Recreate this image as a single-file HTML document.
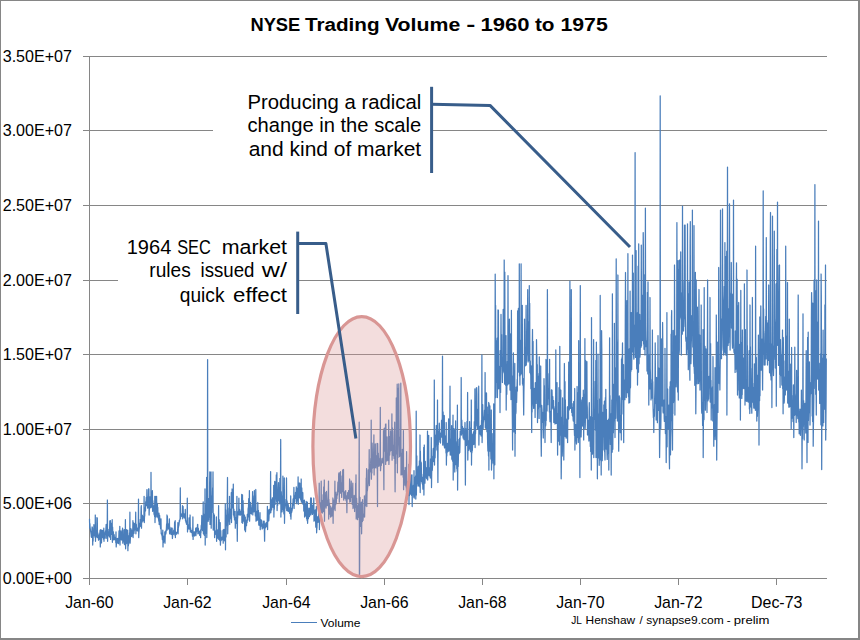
<!DOCTYPE html>
<html>
<head>
<meta charset="utf-8">
<title>NYSE Trading Volume - 1960 to 1975</title>
<style>
html,body{margin:0;padding:0;background:#fff;}
body{width:860px;height:640px;overflow:hidden;font-family:"Liberation Sans",sans-serif;}
svg{display:block;}
text{font-family:"Liberation Sans",sans-serif;fill:#000;}
</style>
</head>
<body>
<svg width="860" height="640" viewBox="0 0 860 640">
<rect x="0" y="0" width="860" height="640" fill="#ffffff"/>
<!-- gridlines -->
<g stroke="#868686" stroke-width="1" fill="none" shape-rendering="crispEdges">
<path d="M83,56.5H827 M83,130.5H827 M83,205.5H827 M83,280.5H827 M83,354.5H827 M83,429.5H827 M83,503.5H827 M83,578.5H827"/>
<path d="M89.5,56V585 M187.5,578V585 M286.5,578V585 M384.5,578V585 M482.5,578V585 M580.5,578V585 M678.5,578V585 M776.5,578V585"/>
</g>
<!-- series -->
<path d="M89.5,518.8 89.7,528.2 89.9,523.5 90.1,527.2 90.3,529.1 90.5,530.8 90.7,531.6 90.9,532.9 91.1,534.5 91.3,536.9 91.5,535.9 91.7,537.4 91.9,530.0 92.1,526.9 92.3,527.5 92.5,528.2 92.7,545.1 92.9,537.1 93.1,541.0 93.3,531.9 93.5,533.4 93.7,534.9 93.9,524.7 94.1,532.5 94.3,535.8 94.5,532.8 94.7,534.2 94.9,529.5 95.1,537.5 95.3,515.0 95.5,541.3 95.7,535.0 95.9,535.5 96.1,534.3 96.3,537.1 96.5,532.0 96.7,530.0 96.9,517.7 97.1,527.9 97.3,517.9 97.5,537.6 97.7,532.6 97.9,536.2 98.1,535.5 98.3,536.4 98.5,540.2 98.7,538.1 98.9,539.5 99.1,536.1 99.3,533.8 99.5,538.9 99.7,534.2 99.9,532.1 100.1,530.1 100.3,546.9 100.5,539.7 100.7,529.7 100.9,529.6 101.1,531.4 101.3,542.4 101.5,543.0 101.7,531.8 101.8,532.5 102.0,530.4 102.2,534.0 102.4,537.4 102.6,535.3 102.8,536.7 103.0,530.3 103.2,533.6 103.4,539.0 103.6,538.9 103.8,528.2 104.0,541.3 104.2,533.7 104.4,533.0 104.6,537.4 104.8,536.9 105.0,532.7 105.2,538.2 105.4,531.3 105.6,530.6 105.8,531.5 106.0,527.5 106.2,524.4 106.4,529.4 106.6,534.9 106.8,538.4 107.0,538.5 107.2,531.3 107.4,500.0 107.6,541.3 107.8,531.7 108.0,535.5 108.2,534.7 108.4,532.5 108.6,531.9 108.8,535.6 109.0,529.3 109.2,531.1 109.4,537.0 109.6,529.4 109.8,521.0 110.0,532.1 110.2,526.1 110.4,520.7 110.6,539.4 110.8,527.9 111.0,523.0 111.2,530.5 111.4,528.2 111.6,534.4 111.8,530.8 112.0,532.3 112.2,519.7 112.4,542.3 112.6,527.1 112.8,532.3 113.0,532.9 113.2,540.0 113.4,531.9 113.6,537.8 113.8,537.4 114.0,534.6 114.2,534.7 114.4,539.6 114.6,539.5 114.8,537.9 115.0,539.7 115.2,537.9 115.4,537.2 115.6,538.0 115.8,542.6 116.0,531.9 116.2,546.9 116.4,544.3 116.6,540.0 116.8,543.5 117.0,540.3 117.2,538.6 117.4,538.4 117.6,542.9 117.8,542.6 118.0,542.5 118.2,538.5 118.4,539.2 118.6,543.6 118.8,537.4 119.0,530.9 119.2,539.2 119.4,539.0 119.6,538.8 119.8,526.3 120.0,545.1 120.2,534.7 120.4,538.0 120.6,538.2 120.8,539.6 121.0,530.8 121.2,536.7 121.4,538.4 121.6,540.0 121.8,536.7 122.0,536.3 122.2,536.4 122.4,529.8 122.6,528.2 122.8,543.2 123.0,539.9 123.2,536.1 123.4,540.1 123.6,535.6 123.8,541.0 124.0,529.8 124.2,540.6 124.4,544.3 124.6,544.7 124.8,529.3 125.0,540.8 125.2,542.0 125.4,519.7 125.6,548.8 125.8,542.6 126.0,542.7 126.2,543.8 126.3,543.5 126.5,529.7 126.7,532.6 126.9,534.0 127.1,535.1 127.3,543.2 127.5,541.4 127.7,530.1 127.9,550.7 128.1,535.3 128.3,546.0 128.5,544.8 128.7,543.2 128.9,541.8 129.1,540.7 129.3,538.7 129.5,532.8 129.7,539.0 129.9,512.2 130.1,543.2 130.3,539.6 130.5,536.5 130.7,536.0 130.9,528.6 131.1,530.9 131.3,536.5 131.5,529.8 131.7,536.4 131.9,534.4 132.1,535.7 132.3,534.5 132.5,533.6 132.7,534.1 132.9,520.7 133.1,537.6 133.3,528.5 133.5,528.2 133.7,522.8 133.9,533.5 134.1,531.4 134.3,523.4 134.5,530.4 134.7,529.8 134.9,526.5 135.1,524.3 135.3,526.9 135.5,526.8 135.7,512.2 135.9,533.8 136.1,526.5 136.3,524.1 136.5,528.9 136.7,528.3 136.9,530.7 137.1,530.2 137.3,528.7 137.5,528.9 137.7,528.2 137.9,527.7 138.1,531.1 138.3,523.8 138.5,499.1 138.7,537.6 138.9,532.8 139.1,530.5 139.3,528.2 139.5,527.2 139.7,523.2 139.9,526.1 140.1,525.5 140.3,519.3 140.5,522.3 140.7,526.3 140.9,518.7 141.1,507.5 141.3,505.7 141.5,528.2 141.7,514.7 141.9,521.7 142.1,522.2 142.3,520.4 142.5,515.5 142.7,518.5 142.9,518.5 143.1,520.9 143.3,516.6 143.5,519.6 143.7,516.9 143.9,518.8 144.1,496.3 144.3,522.6 144.5,516.4 144.7,516.3 144.9,510.1 145.1,507.6 145.3,510.0 145.5,510.9 145.7,501.7 145.9,506.0 146.1,501.9 146.3,497.4 146.5,503.6 146.7,502.0 146.9,489.7 147.1,505.7 147.3,501.9 147.5,504.5 147.7,508.2 147.9,506.1 148.1,496.9 148.3,499.9 148.5,488.9 148.7,506.9 148.9,488.8 149.1,515.0 149.3,509.6 149.5,508.0 149.7,499.1 149.9,496.9 150.1,507.9 150.3,501.9 150.5,500.0 150.7,496.6 150.9,503.7 151.0,472.3 151.2,507.5 151.4,504.4 151.6,505.9 151.8,493.6 152.0,505.2 152.2,506.0 152.4,490.7 152.6,511.3 152.8,500.6 153.0,505.4 153.2,510.8 153.4,508.4 153.6,507.0 153.8,505.8 154.0,514.3 154.2,511.7 154.4,514.7 154.6,516.4 154.8,496.3 155.0,522.6 155.2,511.4 155.4,517.3 155.6,512.3 155.8,496.3 156.0,512.5 156.2,510.3 156.4,510.3 156.6,496.3 156.8,516.9 157.0,511.0 157.2,513.4 157.4,503.5 157.6,513.0 157.8,507.4 158.0,517.5 158.2,514.8 158.4,518.5 158.6,519.2 158.8,521.2 159.0,513.2 159.2,524.4 159.4,523.0 159.6,515.2 159.8,518.2 160.0,522.9 160.2,525.3 160.4,526.5 160.6,528.7 160.8,527.7 161.0,518.8 161.2,533.8 161.4,533.0 161.6,533.1 161.8,535.3 162.0,534.2 162.2,537.0 162.4,539.6 162.6,535.2 162.8,530.1 163.0,546.9 163.2,535.7 163.4,542.8 163.6,538.1 163.8,542.0 164.0,540.4 164.2,536.3 164.4,539.8 164.6,539.2 164.8,531.9 165.0,543.2 165.2,535.7 165.4,531.2 165.6,532.7 165.8,534.2 166.0,533.0 166.2,530.9 166.4,528.2 166.6,524.0 166.8,528.0 167.0,515.0 167.2,530.1 167.4,516.2 167.6,528.0 167.8,528.2 168.0,524.9 168.2,526.5 168.4,524.0 168.6,527.5 168.8,529.2 169.0,527.6 169.2,524.1 169.4,518.8 169.6,533.8 169.8,529.8 170.0,527.1 170.2,529.1 170.4,530.6 170.6,531.2 170.8,532.1 171.0,534.4 171.2,532.4 171.4,529.3 171.6,528.0 171.8,530.7 172.0,534.8 172.2,528.2 172.4,538.5 172.6,536.2 172.8,533.3 173.0,534.5 173.2,532.6 173.4,534.3 173.6,530.8 173.8,530.4 174.0,532.3 174.2,528.8 174.4,533.2 174.6,522.0 174.8,535.1 175.0,532.4 175.2,520.7 175.4,537.6 175.5,533.1 175.7,534.5 175.9,534.0 176.1,532.4 176.3,533.9 176.5,534.2 176.7,532.5 176.9,532.5 177.1,532.8 177.3,531.8 177.5,532.7 177.7,529.4 177.9,522.6 178.1,533.8 178.3,527.8 178.5,527.2 178.7,525.8 178.9,525.4 179.1,523.6 179.3,520.5 179.5,521.8 179.7,520.5 179.9,519.3 180.1,518.4 180.3,487.8 180.5,518.8 180.7,515.3 180.9,514.9 181.1,516.1 181.3,515.4 181.5,514.0 181.7,515.8 181.9,515.4 182.1,516.4 182.3,515.9 182.5,505.7 182.7,518.8 182.9,513.8 183.1,506.4 183.3,513.7 183.5,513.3 183.7,516.8 183.9,513.5 184.1,516.6 184.3,517.6 184.5,518.0 184.7,516.9 184.9,517.6 185.1,517.0 185.3,509.4 185.5,520.7 185.7,520.0 185.9,522.2 186.1,521.6 186.3,522.8 186.5,524.2 186.7,523.4 186.9,524.4 187.1,524.3 187.3,498.2 187.5,531.9 187.7,528.4 187.9,528.9 188.1,528.6 188.3,527.5 188.5,527.9 188.7,524.6 188.9,528.9 189.1,517.9 189.3,528.9 189.5,523.6 189.7,529.2 189.9,528.4 190.1,515.0 190.3,531.9 190.5,527.7 190.7,528.8 190.9,530.0 191.1,531.4 191.3,532.3 191.5,532.5 191.7,532.6 191.9,532.0 192.1,530.3 192.3,534.0 192.5,536.1 192.7,533.9 192.9,516.9 193.1,539.4 193.3,531.5 193.5,535.0 193.7,534.5 193.9,532.1 194.1,535.7 194.3,533.4 194.5,536.0 194.7,534.4 194.9,531.7 195.1,533.2 195.3,533.9 195.5,532.9 195.7,528.2 195.9,535.7 196.1,533.1 196.3,532.2 196.5,531.2 196.7,531.3 196.9,527.4 197.1,529.0 197.3,530.7 197.5,524.6 197.7,524.4 197.9,533.8 198.1,532.6 198.3,528.0 198.5,531.4 198.7,531.4 198.9,532.8 199.1,531.3 199.3,533.8 199.5,532.4 199.7,535.4 199.9,533.9 200.0,532.5 200.2,532.7 200.4,530.1 200.6,537.6 200.8,532.9 201.0,532.6 201.2,525.9 201.4,525.0 201.6,524.7 201.8,515.5 202.0,518.9 202.2,529.8 202.4,528.3 202.6,530.6 202.8,516.7 203.0,525.7 203.2,501.9 203.4,533.8 203.6,528.8 203.8,526.6 204.0,514.4 204.2,534.6 204.4,535.3 204.6,531.2 204.8,532.3 205.0,488.8 205.2,545.1 205.4,523.7 205.6,504.5 205.8,533.3 206.0,533.1 206.2,530.0 206.4,524.8 206.6,477.5 206.8,537.6 207.0,525.1 207.2,512.8 207.4,507.0 207.6,359.5 207.8,510.6 208.0,512.9 208.2,521.3 208.4,511.0 208.6,519.8 208.8,498.6 209.0,517.2 209.2,516.0 209.4,513.8 209.6,486.5 209.8,471.9 210.0,524.4 210.2,510.3 210.4,481.1 210.6,512.1 210.8,511.3 211.0,471.9 211.2,528.2 211.4,514.2 211.6,501.2 211.8,512.4 212.0,495.8 212.2,500.2 212.4,497.9 212.6,487.9 212.8,496.0 213.0,471.9 213.2,530.1 213.4,527.3 213.6,513.3 213.8,514.4 214.0,528.4 214.2,520.2 214.4,515.0 214.6,537.6 214.8,533.0 215.0,532.9 215.2,532.7 215.4,533.7 215.6,531.0 215.8,533.3 216.0,534.4 216.2,534.8 216.4,516.9 216.6,541.3 216.8,533.1 217.0,532.8 217.2,538.2 217.4,534.4 217.6,530.0 217.8,533.5 218.0,531.0 218.2,538.2 218.4,531.5 218.6,505.7 218.8,539.4 219.0,535.8 219.2,519.6 219.4,535.9 219.6,534.4 219.8,540.7 220.0,540.1 220.2,522.6 220.4,545.1 220.6,540.6 220.8,530.7 221.0,540.6 221.2,537.5 221.4,538.2 221.6,539.9 221.8,537.5 222.0,537.8 222.2,539.7 222.4,536.8 222.6,538.9 222.8,537.5 223.0,530.1 223.2,543.2 223.4,537.0 223.6,539.9 223.8,529.4 224.0,531.0 224.2,532.8 224.4,535.5 224.6,540.8 224.7,536.1 224.9,529.2 225.1,540.4 225.3,503.8 225.5,549.8 225.7,509.8 225.9,523.8 226.1,537.0 226.3,518.7 226.5,517.0 226.7,515.1 226.9,525.5 227.1,525.5 227.3,498.7 227.5,477.5 227.7,533.8 227.9,523.9 228.1,525.1 228.3,521.5 228.5,521.0 228.7,519.7 228.9,513.9 229.1,508.0 229.3,519.2 229.5,496.3 229.7,524.4 229.9,512.8 230.1,509.0 230.3,509.4 230.5,517.4 230.7,514.4 230.9,513.2 231.1,519.0 231.3,492.5 231.5,522.6 231.7,506.9 231.9,506.9 232.1,489.0 232.3,502.0 232.5,499.9 232.7,507.9 232.9,499.4 233.1,507.1 233.3,484.1 233.5,515.0 233.7,513.2 233.9,509.1 234.1,517.3 234.3,513.4 234.5,519.7 234.7,517.1 234.9,520.2 235.1,511.3 235.3,528.2 235.5,521.0 235.7,517.3 235.9,519.5 236.1,518.9 236.3,520.9 236.5,523.3 236.7,516.6 236.9,496.3 237.1,523.6 237.3,541.3 237.5,519.5 237.7,517.1 237.9,511.8 238.1,512.5 238.3,514.2 238.5,514.2 238.7,511.6 238.9,498.2 239.1,515.0 239.3,509.0 239.5,511.5 239.7,509.7 239.9,510.6 240.1,513.1 240.3,515.1 240.5,513.6 240.7,514.1 240.9,514.5 241.1,511.3 241.3,512.1 241.5,511.8 241.7,494.4 241.9,522.6 242.1,506.5 242.3,510.3 242.5,494.8 242.7,523.3 242.9,509.5 243.1,500.5 243.3,513.3 243.5,511.2 243.7,520.4 243.9,518.5 244.1,521.5 244.3,519.1 244.5,515.0 244.7,530.1 244.9,527.5 245.1,527.8 245.3,517.0 245.5,531.7 245.7,527.4 245.9,524.7 246.1,521.0 246.3,525.3 246.5,525.7 246.7,519.9 246.9,519.7 247.1,522.6 247.3,514.4 247.5,516.1 247.7,518.9 247.9,520.0 248.1,508.9 248.3,507.9 248.5,506.8 248.7,498.6 248.9,516.8 249.1,516.1 249.2,507.4 249.4,490.6 249.6,521.2 249.8,512.8 250.0,505.5 250.2,507.6 250.4,502.4 250.6,513.4 250.8,512.0 251.0,511.8 251.2,508.4 251.4,514.0 251.6,510.4 251.8,509.8 252.0,505.1 252.2,506.0 252.4,501.7 252.6,491.6 252.8,514.9 253.0,506.3 253.2,502.0 253.4,498.2 253.6,508.2 253.8,511.8 254.0,495.8 254.2,501.7 254.4,490.5 254.6,510.0 254.8,511.3 255.0,512.0 255.2,511.3 255.4,515.9 255.6,507.4 255.8,489.5 256.0,521.2 256.2,515.9 256.4,517.2 256.6,511.3 256.8,517.5 257.0,518.6 257.2,520.4 257.4,519.5 257.6,518.6 257.8,502.5 258.0,514.3 258.2,519.7 258.4,510.3 258.6,516.0 258.8,524.8 259.0,525.3 259.2,525.2 259.4,524.8 259.6,523.0 259.8,524.9 260.0,512.7 260.2,529.6 260.4,525.5 260.6,523.8 260.8,526.0 261.0,519.6 261.2,526.0 261.4,526.1 261.6,520.3 261.8,524.2 262.0,526.5 262.2,529.0 262.4,527.1 262.6,527.2 262.8,527.7 263.0,524.0 263.2,527.8 263.4,521.2 263.6,526.7 263.8,527.7 264.0,528.1 264.2,521.2 264.4,531.6 264.6,541.2 264.8,528.9 265.0,528.7 265.2,523.8 265.4,524.0 265.6,527.6 265.8,527.0 266.0,525.6 266.2,522.6 266.4,525.9 266.6,524.4 266.8,526.5 267.0,525.4 267.2,523.3 267.4,506.4 267.6,529.6 267.8,509.7 268.0,514.8 268.2,510.3 268.4,518.2 268.6,521.0 268.8,520.6 269.0,518.0 269.2,509.4 269.4,513.5 269.6,513.9 269.8,509.7 270.0,511.9 270.2,510.4 270.4,506.3 270.6,471.6 270.8,512.7 271.0,509.7 271.2,499.6 271.4,508.6 271.6,510.0 271.8,507.4 272.0,506.2 272.2,503.5 272.4,497.8 272.6,498.0 272.8,505.6 273.0,507.3 273.2,500.6 273.4,504.5 273.6,502.2 273.7,485.3 273.9,517.0 274.1,504.5 274.3,509.2 274.5,500.0 274.7,481.4 274.9,493.1 275.1,504.5 275.3,495.1 275.5,498.0 275.7,494.7 275.9,481.7 276.1,489.2 276.3,475.0 276.5,500.0 276.7,501.9 276.9,472.7 277.1,510.6 277.3,503.8 277.5,498.9 277.7,505.1 277.9,500.4 278.1,495.0 278.3,487.3 278.5,482.6 278.7,500.1 278.9,494.7 279.1,496.7 279.3,500.9 279.5,495.0 279.7,503.8 279.9,478.3 280.1,486.5 280.3,496.0 280.5,479.6 280.7,439.5 280.9,517.0 281.1,501.8 281.3,491.7 281.5,500.1 281.7,507.6 281.9,511.9 282.1,511.4 282.3,495.8 282.5,498.0 282.7,509.1 282.9,476.1 283.1,505.7 283.3,509.6 283.5,509.8 283.7,510.8 283.9,513.9 284.1,510.8 284.3,477.9 284.5,523.3 284.7,510.7 284.9,506.4 285.1,508.1 285.3,505.1 285.5,503.5 285.7,504.3 285.9,499.5 286.1,505.6 286.3,500.9 286.5,477.9 286.7,510.6 286.9,504.3 287.1,500.8 287.3,505.4 287.5,504.6 287.7,503.2 287.9,511.2 288.1,504.1 288.3,506.0 288.5,505.9 288.7,511.5 288.9,511.4 289.1,511.2 289.3,510.0 289.5,512.1 289.7,513.3 289.9,507.6 290.1,510.8 290.3,509.6 290.5,516.3 290.7,495.9 290.9,519.1 291.1,514.7 291.3,508.2 291.5,512.9 291.7,512.2 291.9,511.2 292.1,510.5 292.3,508.9 292.5,507.6 292.7,503.2 292.9,505.3 293.1,499.0 293.3,500.7 293.5,501.2 293.7,502.5 293.9,487.4 294.1,508.5 294.3,495.7 294.5,499.0 294.7,502.1 294.9,497.8 295.1,497.0 295.3,497.0 295.5,492.5 295.7,496.8 295.9,498.4 296.1,497.5 296.3,486.8 296.5,501.4 296.7,503.6 296.9,499.7 297.1,501.0 297.3,488.3 297.5,496.4 297.7,500.4 297.9,496.7 298.1,476.9 298.3,504.3 298.4,485.4 298.6,482.8 298.8,484.8 299.0,493.0 299.2,484.5 299.4,489.9 299.6,497.8 299.8,483.0 300.0,496.7 300.2,497.3 300.4,499.0 300.6,498.0 300.8,500.0 301.0,497.8 301.2,479.0 301.4,502.2 301.6,497.3 301.8,487.9 302.0,497.8 302.2,497.5 302.4,494.5 302.6,503.6 302.8,492.5 303.0,501.5 303.2,504.4 303.4,503.8 303.6,500.9 303.8,511.1 304.0,507.3 304.2,510.2 304.4,500.1 304.6,517.0 304.8,516.1 305.0,507.6 305.2,504.6 305.4,513.4 305.6,514.4 305.8,515.9 306.0,514.3 306.2,501.3 306.4,513.7 306.6,518.6 306.8,513.9 307.0,518.5 307.2,520.8 307.4,502.2 307.6,523.3 307.8,516.6 308.0,513.0 308.2,511.1 308.4,518.7 308.6,514.8 308.8,508.6 309.0,508.1 309.2,515.7 309.4,516.7 309.6,515.2 309.8,510.8 310.0,511.9 310.2,508.4 310.4,509.9 310.6,498.0 310.8,514.9 311.0,510.8 311.2,505.5 311.4,498.0 311.6,509.2 311.8,507.1 312.0,509.0 312.2,513.4 312.4,514.4 312.6,505.1 312.8,513.2 313.0,513.2 313.2,509.0 313.4,508.7 313.6,506.8 313.8,498.0 314.0,521.2 314.2,514.2 314.4,512.6 314.6,517.4 314.8,520.4 315.0,510.5 315.2,509.8 315.4,513.8 315.6,520.1 315.8,527.2 316.0,524.6 316.2,510.6 316.4,506.4 316.6,532.8 316.8,528.9 317.0,527.4 317.2,517.5 317.4,518.6 317.6,522.4 317.8,516.7 318.0,517.3 318.2,518.0 318.4,522.1 318.6,517.3 318.8,510.7 319.0,514.2 319.2,483.2 319.4,529.6 319.6,516.9 319.8,513.8 320.0,503.3 320.2,509.7 320.4,512.7 320.6,505.6 320.8,502.4 321.0,507.4 321.2,481.1 321.4,512.7 321.6,500.0 321.8,509.6 322.0,511.7 322.2,512.3 322.4,513.0 322.6,504.7 322.8,500.3 322.9,510.6 323.1,494.7 323.3,511.6 323.5,511.5 323.7,486.9 323.9,510.5 324.1,494.7 324.3,480.0 324.5,521.2 324.7,498.9 324.9,503.4 325.1,492.3 325.3,505.8 325.5,504.8 325.7,500.7 325.9,506.7 326.1,508.1 326.3,498.9 326.5,491.4 326.7,498.1 326.9,502.7 327.1,505.6 327.3,505.7 327.5,505.2 327.7,505.1 327.9,500.8 328.1,501.3 328.3,494.1 328.5,481.1 328.7,519.1 328.9,499.4 329.1,507.3 329.3,508.6 329.5,503.2 329.7,510.2 329.9,514.1 330.1,509.6 330.3,506.2 330.5,517.1 330.7,508.4 330.9,516.8 331.1,508.9 331.3,516.2 331.5,512.2 331.7,513.7 331.9,507.2 332.1,513.7 332.3,515.8 332.5,514.3 332.7,509.8 332.9,498.0 333.1,523.3 333.3,508.5 333.5,499.8 333.7,503.9 333.9,506.5 334.1,509.0 334.3,503.9 334.5,501.8 334.7,507.3 334.9,481.1 335.1,510.6 335.3,496.8 335.5,492.2 335.7,504.7 335.9,500.4 336.1,494.1 336.3,503.1 336.5,495.9 336.7,497.2 336.9,498.4 337.1,491.8 337.3,492.7 337.5,495.0 337.7,488.6 337.9,482.2 338.1,491.8 338.3,486.4 338.5,484.4 338.7,473.6 338.9,480.8 339.1,472.7 339.3,502.2 339.5,481.8 339.7,473.6 339.9,487.2 340.1,487.0 340.3,493.1 340.5,471.7 340.7,489.6 340.9,492.7 341.1,493.1 341.3,483.3 341.5,489.2 341.7,497.4 341.9,491.9 342.1,475.9 342.3,488.3 342.5,491.3 342.7,470.0 342.9,489.0 343.1,491.8 343.3,488.1 343.5,469.5 343.7,500.1 343.9,496.3 344.1,493.5 344.3,495.2 344.5,491.8 344.7,495.9 344.9,495.7 345.1,498.5 345.3,498.5 345.5,495.7 345.7,490.6 345.9,498.6 346.1,500.8 346.3,497.1 346.5,495.9 346.7,503.1 346.9,512.7 347.1,498.8 347.3,499.2 347.4,498.8 347.6,492.7 347.8,498.0 348.0,498.6 348.2,497.6 348.4,497.7 348.6,490.7 348.8,496.8 349.0,496.5 349.2,499.1 349.4,494.3 349.6,479.0 349.8,502.2 350.0,499.2 350.2,497.8 350.4,501.4 350.6,489.2 350.8,496.4 351.0,484.9 351.2,481.0 351.4,488.2 351.6,497.5 351.8,497.5 352.0,495.4 352.2,504.3 352.4,493.1 352.6,489.4 352.8,483.2 353.0,508.5 353.2,501.4 353.4,506.1 353.6,506.5 353.8,506.8 354.0,507.1 354.2,495.4 354.4,501.5 354.6,511.5 354.8,502.0 355.0,501.7 355.2,504.8 355.4,507.7 355.6,483.5 355.8,498.3 356.0,474.8 356.2,519.1 356.4,510.8 356.6,498.2 356.8,502.6 357.0,506.5 357.2,507.6 357.4,515.2 357.6,519.6 357.8,505.8 358.0,515.9 358.2,517.3 358.4,508.0 358.6,503.9 358.8,514.6 359.0,504.7 359.2,422.2 359.4,574.5 359.6,573.9 359.8,520.6 360.0,497.4 360.2,515.8 360.4,519.2 360.6,523.1 360.8,526.4 361.0,518.9 361.2,504.3 361.4,502.2 361.6,533.8 361.8,517.8 362.0,512.5 362.2,511.8 362.4,521.6 362.6,499.6 362.8,518.8 363.0,520.4 363.2,517.5 363.4,514.4 363.6,514.7 363.8,516.7 364.0,516.3 364.2,513.3 364.4,495.9 364.6,517.0 364.8,505.9 365.0,503.6 365.2,501.6 365.4,506.0 365.6,504.0 365.8,494.6 366.0,499.4 366.2,478.1 366.4,482.3 366.6,468.6 366.8,506.6 367.0,494.0 367.2,488.9 367.4,490.7 367.6,487.5 367.8,486.7 368.0,484.4 368.2,469.9 368.4,483.1 368.6,481.6 368.8,470.6 369.0,473.5 369.2,449.6 369.4,485.5 369.6,475.4 369.8,468.3 370.0,472.2 370.2,469.9 370.4,464.8 370.6,463.4 370.8,458.5 371.0,471.4 371.2,420.1 371.4,479.2 371.6,463.0 371.8,468.9 371.9,473.0 372.1,443.1 372.3,449.0 372.5,465.7 372.7,468.2 372.9,467.5 373.1,458.1 373.3,461.1 373.5,462.5 373.7,448.5 373.9,434.9 374.1,474.9 374.3,463.6 374.5,463.1 374.7,461.7 374.9,459.2 375.1,467.9 375.3,443.8 375.5,467.5 375.7,457.6 375.9,456.3 376.1,455.8 376.3,458.6 376.5,463.9 376.7,462.0 376.9,468.3 377.1,443.3 377.3,474.8 377.5,506.6 377.7,443.7 377.9,464.2 378.1,460.5 378.3,453.1 378.5,463.0 378.7,465.7 378.9,466.4 379.1,464.2 379.3,465.4 379.5,463.8 379.7,458.2 379.9,460.6 380.1,453.5 380.3,407.4 380.5,470.7 380.7,468.4 380.9,462.3 381.1,458.6 381.3,465.4 381.5,461.0 381.7,462.5 381.9,462.7 382.1,462.4 382.3,461.9 382.5,460.6 382.7,458.2 382.9,458.9 383.1,463.1 383.3,456.5 383.5,430.6 383.7,469.6 383.9,489.7 384.1,428.8 384.3,428.1 384.5,451.1 384.7,449.4 384.9,443.9 385.1,446.8 385.3,449.8 385.5,424.3 385.7,464.4 385.9,423.9 386.1,452.9 386.3,449.8 386.5,455.0 386.7,452.4 386.9,461.0 387.1,436.8 387.3,457.4 387.5,453.3 387.7,460.1 387.9,455.1 388.1,457.1 388.3,460.4 388.5,458.9 388.7,420.1 388.9,464.4 389.1,459.3 389.3,447.5 389.5,450.1 389.7,455.1 389.9,436.3 390.1,451.8 390.3,447.3 390.5,430.9 390.7,446.1 390.9,448.5 391.1,440.7 391.3,450.4 391.5,447.5 391.7,446.0 391.9,413.8 392.1,460.2 392.3,441.5 392.5,427.8 392.7,438.7 392.9,454.9 393.1,445.1 393.3,449.2 393.5,455.7 393.7,446.6 393.9,448.3 394.1,458.4 394.3,430.8 394.5,451.7 394.7,422.2 394.9,468.5 395.1,491.8 395.3,457.2 395.5,458.2 395.7,463.6 395.9,452.6 396.1,450.4 396.3,398.0 396.5,439.5 396.6,447.7 396.8,453.8 397.0,432.5 397.2,384.2 397.4,472.8 397.6,436.9 397.8,452.5 398.0,457.4 398.2,431.0 398.4,388.2 398.6,432.1 398.8,383.8 399.0,421.0 399.2,440.3 399.4,446.1 399.6,456.7 399.8,437.5 400.0,454.3 400.2,455.2 400.4,448.7 400.6,449.0 400.8,383.2 401.0,474.9 401.2,456.8 401.4,453.2 401.6,457.3 401.8,459.3 402.0,474.7 402.2,468.5 402.4,449.3 402.6,465.9 402.8,464.4 403.0,462.3 403.2,477.3 403.4,430.6 403.6,489.7 403.8,472.8 404.0,473.5 404.2,478.6 404.4,478.7 404.6,470.3 404.8,475.2 405.0,485.2 405.2,467.3 405.4,470.9 405.6,481.0 405.8,479.5 406.0,486.9 406.2,481.8 406.4,491.4 406.6,451.7 406.8,498.1 407.0,490.9 407.2,483.3 407.4,494.1 407.6,491.1 407.8,492.2 408.0,481.7 408.2,482.5 408.4,495.6 408.6,493.8 408.8,464.4 409.0,504.5 409.2,466.2 409.4,495.8 409.6,477.6 409.8,468.8 410.0,482.5 410.2,492.7 410.4,478.7 410.6,494.2 410.8,487.9 411.0,491.6 411.2,475.0 411.4,495.0 411.6,495.4 411.8,488.8 412.0,474.9 412.2,506.6 412.4,488.1 412.6,489.6 412.8,494.4 413.0,494.7 413.2,490.0 413.4,485.1 413.6,492.4 413.8,497.3 414.0,470.7 414.2,498.1 414.4,496.0 414.6,494.1 414.8,490.3 415.0,487.5 415.2,477.2 415.4,488.4 415.6,475.9 415.8,499.1 416.0,483.9 416.2,411.2 416.4,495.0 416.6,467.4 416.8,455.8 417.0,481.8 417.2,476.8 417.4,483.5 417.6,478.0 417.8,482.5 418.0,486.0 418.2,466.6 418.4,471.6 418.6,481.2 418.8,465.8 419.0,486.0 419.2,477.9 419.4,460.9 419.6,483.4 419.8,486.9 420.0,435.0 420.2,492.5 420.4,451.0 420.6,467.8 420.8,461.5 421.0,477.3 421.1,480.0 421.3,462.6 421.5,481.5 421.7,474.2 421.9,478.4 422.1,483.3 422.3,477.2 422.5,484.4 422.7,484.3 422.9,489.2 423.1,485.9 423.3,485.8 423.5,477.1 423.7,447.5 423.9,495.0 424.1,481.6 424.3,445.0 424.5,467.2 424.7,465.1 424.9,483.1 425.1,478.6 425.3,461.4 425.5,477.1 425.7,474.3 425.9,475.4 426.1,474.3 426.3,468.6 426.5,478.2 426.7,467.5 426.9,478.8 427.1,474.4 427.3,463.2 427.5,431.2 427.7,480.0 427.9,470.2 428.1,447.2 428.3,470.3 428.5,461.2 428.7,435.3 428.9,470.1 429.1,475.8 429.3,467.6 429.5,472.1 429.7,469.1 429.9,472.1 430.1,474.6 430.3,478.0 430.5,458.8 430.7,469.6 430.9,475.8 431.1,456.6 431.3,437.5 431.5,487.5 431.7,472.9 431.9,468.2 432.1,470.1 432.3,470.3 432.5,466.8 432.7,456.2 432.9,462.1 433.1,450.4 433.3,448.3 433.5,461.4 433.7,459.4 433.9,460.2 434.1,457.3 434.3,380.0 434.5,465.0 434.7,449.9 434.9,445.5 435.1,457.8 435.3,447.6 435.5,446.3 435.7,435.0 435.9,441.4 436.1,433.4 436.3,425.5 436.5,444.1 436.7,435.3 436.9,449.8 437.1,449.0 437.3,450.6 437.5,400.0 437.7,457.0 437.9,482.5 438.1,441.2 438.3,444.7 438.5,431.2 438.7,438.8 438.9,436.9 439.1,439.3 439.3,423.2 439.5,428.4 439.7,437.1 439.9,442.0 440.1,432.8 440.3,437.9 440.5,443.1 440.7,437.3 440.9,436.6 441.1,437.4 441.3,437.3 441.5,420.4 441.7,436.8 441.9,431.2 442.1,422.7 442.3,417.6 442.5,356.2 442.7,445.0 442.9,436.2 443.1,411.8 443.3,421.2 443.5,432.0 443.7,433.7 443.9,439.7 444.1,446.1 444.3,415.5 444.5,447.9 444.7,435.8 444.9,437.6 445.1,440.9 445.3,436.2 445.5,447.6 445.6,437.3 445.8,447.5 446.0,452.9 446.2,422.5 446.4,465.0 446.6,446.0 446.8,456.1 447.0,450.0 447.2,447.3 447.4,443.4 447.6,452.0 447.8,451.3 448.0,446.1 448.2,451.3 448.4,440.2 448.6,418.8 448.8,440.2 449.0,447.2 449.2,450.8 449.4,443.9 449.6,444.0 449.8,426.1 450.0,386.2 450.2,455.0 450.4,442.0 450.6,443.1 450.8,445.4 451.0,438.9 451.2,455.1 451.4,452.4 451.6,425.6 451.8,459.2 452.0,443.9 452.2,446.6 452.4,459.8 452.6,461.2 452.8,440.6 453.0,415.0 453.2,480.0 453.4,459.6 453.6,464.6 453.8,436.9 454.0,428.7 454.2,462.9 454.4,430.4 454.6,466.0 454.8,472.0 455.0,451.5 455.2,460.7 455.4,453.9 455.6,420.9 455.8,464.7 456.0,441.5 456.2,455.5 456.4,450.6 456.6,456.3 456.8,468.7 457.0,460.9 457.2,471.2 457.4,405.0 457.6,490.0 457.8,465.7 458.0,457.5 458.2,466.5 458.4,458.0 458.6,446.6 458.8,449.2 459.0,439.4 459.2,453.6 459.4,442.5 459.6,438.1 459.8,452.4 460.0,443.5 460.2,431.2 460.4,432.5 460.6,434.6 460.8,433.4 461.0,431.4 461.2,377.5 461.4,435.0 461.6,433.5 461.8,420.1 462.0,428.9 462.2,428.4 462.4,426.4 462.6,427.8 462.8,432.9 463.0,436.7 463.2,438.2 463.4,428.3 463.6,432.5 463.8,432.1 464.0,439.7 464.2,439.2 464.4,434.2 464.6,438.7 464.8,429.0 465.0,422.5 465.2,449.5 465.4,485.0 465.6,438.7 465.8,428.8 466.0,441.3 466.2,442.7 466.4,445.5 466.6,435.7 466.8,440.8 467.0,421.3 467.2,443.7 467.4,444.3 467.6,392.5 467.8,460.0 468.0,444.9 468.2,441.6 468.4,450.5 468.6,449.2 468.8,447.1 469.0,440.4 469.2,449.0 469.4,433.3 469.6,421.6 469.8,445.0 470.0,443.3 470.2,450.6 470.3,428.4 470.5,451.4 470.7,451.8 470.9,448.5 471.1,451.5 471.3,400.0 471.5,465.0 471.7,444.5 471.9,452.7 472.1,449.1 472.3,450.8 472.5,446.9 472.7,434.1 472.9,443.5 473.1,438.0 473.3,444.6 473.5,432.0 473.7,440.9 473.9,444.3 474.1,439.8 474.3,421.7 474.5,434.8 474.7,438.0 474.9,388.8 475.1,447.5 475.3,429.1 475.5,433.7 475.7,428.3 475.9,420.9 476.1,418.9 476.3,387.9 476.5,406.1 476.7,387.6 476.9,393.7 477.1,425.9 477.3,409.0 477.5,427.8 477.7,429.0 477.9,423.5 478.1,429.3 478.3,415.3 478.5,419.3 478.7,386.2 478.9,445.0 479.1,428.5 479.3,432.5 479.5,429.0 479.7,431.3 479.9,431.8 480.1,426.1 480.3,434.3 480.5,430.8 480.7,425.5 480.9,434.8 481.1,436.0 481.3,433.1 481.5,420.4 481.7,432.5 481.9,355.0 482.1,442.5 482.3,433.1 482.5,421.4 482.7,404.7 482.9,419.3 483.1,428.9 483.3,422.6 483.5,422.1 483.7,418.2 483.9,416.9 484.1,419.7 484.3,414.2 484.5,410.2 484.7,414.9 484.9,419.2 485.1,372.5 485.3,427.5 485.5,419.7 485.7,420.6 485.9,428.7 486.1,401.5 486.3,392.8 486.5,393.2 486.7,419.7 486.9,431.7 487.1,428.4 487.3,407.0 487.5,436.6 487.7,444.9 487.9,451.0 488.1,449.6 488.3,445.7 488.5,455.9 488.7,402.5 488.9,470.0 489.1,403.5 489.3,434.0 489.5,417.8 489.7,451.0 489.9,405.9 490.1,434.6 490.3,447.2 490.5,427.3 490.7,448.9 490.9,459.0 491.1,444.3 491.3,410.0 491.5,470.0 491.7,458.7 491.9,463.9 492.1,433.6 492.3,456.4 492.5,453.0 492.7,460.0 492.9,459.2 493.1,452.5 493.3,463.1 493.5,436.6 493.7,403.8 493.9,478.8 494.1,426.8 494.3,458.6 494.5,451.7 494.7,451.9 494.8,464.8 495.0,379.2 495.2,274.1 495.4,324.5 495.6,305.4 495.8,397.5 496.0,381.2 496.2,383.0 496.4,381.6 496.6,340.6 496.8,365.1 497.0,350.7 497.2,338.2 497.4,397.5 497.6,383.6 497.8,370.1 498.0,309.9 498.2,383.0 498.4,310.2 498.6,383.0 498.8,388.8 499.0,376.9 499.2,384.7 499.4,382.9 499.6,375.7 499.8,366.2 500.0,412.5 500.2,350.6 500.4,376.0 500.6,392.5 500.8,360.7 501.0,314.4 501.2,350.4 501.4,338.9 501.6,334.6 501.8,366.3 502.0,357.0 502.2,369.1 502.4,382.5 502.6,357.8 502.8,362.5 503.0,371.1 503.2,309.4 503.4,353.3 503.6,359.3 503.8,360.8 504.0,372.8 504.2,260.0 504.4,364.6 504.6,384.1 504.8,272.1 505.0,360.2 505.2,351.0 505.4,358.0 505.6,385.2 505.8,375.0 506.0,335.6 506.2,410.0 506.4,378.0 506.6,391.7 506.8,394.4 507.0,373.0 507.2,372.8 507.4,361.4 507.6,384.9 507.8,376.6 508.0,275.7 508.2,373.1 508.4,370.3 508.6,375.3 508.8,383.9 509.0,383.3 509.2,358.4 509.4,319.2 509.6,371.8 509.8,349.0 510.0,390.0 510.2,333.9 510.4,336.5 510.6,337.3 510.8,379.7 511.0,399.6 511.2,378.6 511.4,310.3 511.6,374.2 511.8,397.9 512.0,375.8 512.2,404.9 512.4,424.4 512.6,450.0 512.8,382.6 513.0,425.4 513.2,368.4 513.4,352.9 513.6,397.6 513.8,416.5 514.0,431.9 514.2,405.0 514.4,417.0 514.6,386.5 514.8,363.4 515.0,456.2 515.2,406.5 515.4,433.4 515.6,389.9 515.8,413.8 516.0,411.6 516.2,387.1 516.4,388.7 516.6,402.5 516.8,394.1 517.0,387.1 517.2,379.4 517.4,391.1 517.6,311.0 517.8,354.2 518.0,349.9 518.2,317.7 518.4,308.4 518.6,324.1 518.8,372.2 519.0,367.3 519.2,343.8 519.3,263.8 519.5,376.1 519.7,340.0 519.9,385.0 520.1,368.1 520.3,371.1 520.5,368.8 520.7,374.9 520.9,373.1 521.1,263.8 521.3,340.3 521.5,367.5 521.7,373.7 521.9,326.1 522.1,354.5 522.3,305.3 522.5,383.8 522.7,382.2 522.9,385.2 523.1,378.6 523.3,382.4 523.5,401.9 523.7,415.0 523.9,392.5 524.1,381.9 524.3,370.0 524.5,319.2 524.7,365.8 524.9,363.3 525.1,363.2 525.3,365.8 525.5,356.6 525.7,358.7 525.9,345.8 526.1,305.3 526.3,365.0 526.5,352.2 526.7,355.1 526.9,341.5 527.1,347.4 527.3,343.4 527.5,326.5 527.7,289.7 527.9,360.5 528.1,362.0 528.3,352.3 528.5,359.5 528.7,321.6 528.9,348.6 529.1,360.6 529.3,285.6 529.5,357.3 529.7,303.3 529.9,372.5 530.1,369.9 530.3,360.9 530.5,373.9 530.7,366.1 530.9,388.6 531.1,388.9 531.3,367.7 531.5,407.4 531.7,432.5 531.9,365.3 532.1,412.0 532.3,343.4 532.5,329.5 532.7,358.7 532.9,359.2 533.1,341.4 533.3,402.1 533.5,405.7 533.7,408.4 533.9,389.1 534.1,388.4 534.3,389.9 534.5,406.3 534.7,395.8 534.9,400.1 535.1,417.5 535.3,382.7 535.5,400.8 535.7,398.9 535.9,384.2 536.1,403.4 536.3,389.1 536.5,339.7 536.7,355.8 536.9,354.6 537.1,395.8 537.3,364.5 537.5,422.5 537.7,405.9 537.9,396.6 538.1,397.6 538.3,408.7 538.5,376.2 538.7,378.6 538.9,373.5 539.1,418.4 539.3,356.8 539.5,391.5 539.7,382.4 539.9,400.8 540.1,406.8 540.3,383.8 540.5,399.7 540.7,366.0 540.9,419.2 541.1,440.7 541.3,456.2 541.5,419.6 541.7,405.4 541.9,408.0 542.1,411.4 542.3,412.4 542.5,422.3 542.7,417.5 542.9,412.5 543.1,430.3 543.3,438.0 543.5,420.2 543.7,414.2 543.9,389.8 544.0,378.7 544.2,405.8 544.4,385.7 544.6,416.1 544.8,421.0 545.0,442.5 545.2,422.7 545.4,420.2 545.6,425.9 545.8,424.3 546.0,359.5 546.2,420.6 546.4,384.4 546.6,401.5 546.8,360.8 547.0,410.9 547.2,397.6 547.4,289.7 547.6,390.3 547.8,404.7 548.0,373.5 548.2,388.6 548.4,388.6 548.6,388.7 548.8,389.7 549.0,398.4 549.2,399.4 549.4,411.9 549.6,359.3 549.8,417.7 550.0,421.6 550.2,417.7 550.4,411.4 550.6,417.8 550.8,418.3 551.0,423.1 551.2,442.5 551.4,389.8 551.6,407.9 551.8,399.8 552.0,390.0 552.2,397.3 552.4,407.8 552.6,398.5 552.8,396.5 553.0,409.1 553.2,408.8 553.4,406.7 553.6,400.6 553.8,422.5 554.0,406.6 554.2,409.9 554.4,412.4 554.6,409.7 554.8,415.1 555.0,424.0 555.2,419.0 555.4,408.6 555.6,420.3 555.8,349.9 556.0,422.0 556.2,423.5 556.4,403.8 556.6,386.8 556.8,421.6 557.0,382.6 557.2,422.6 557.4,421.8 557.6,455.0 557.8,414.1 558.0,428.5 558.2,429.7 558.4,441.2 558.6,402.5 558.8,421.3 559.0,387.7 559.2,392.7 559.4,424.4 559.6,444.9 559.8,346.3 560.0,404.7 560.2,435.1 560.4,412.9 560.6,403.7 560.8,390.0 561.0,433.4 561.2,478.8 561.4,460.1 561.6,441.9 561.8,430.9 562.0,417.2 562.2,456.0 562.4,450.9 562.6,397.8 562.8,439.5 563.0,446.4 563.2,440.5 563.4,433.3 563.6,438.2 563.8,460.0 564.0,424.3 564.2,400.9 564.4,363.5 564.6,408.0 564.8,407.0 565.0,381.6 565.2,436.5 565.4,399.8 565.6,436.6 565.8,436.6 566.0,429.2 566.2,438.2 566.4,432.9 566.6,425.6 566.8,418.9 567.0,429.1 567.2,436.9 567.4,407.0 567.6,442.5 567.8,406.7 568.0,408.5 568.2,407.3 568.4,416.7 568.5,419.0 568.7,362.1 568.9,399.9 569.1,409.2 569.3,409.9 569.5,398.4 569.7,361.8 569.9,281.2 570.1,400.9 570.3,407.7 570.5,408.4 570.7,403.1 570.9,399.1 571.1,395.2 571.3,289.7 571.5,406.8 571.7,412.4 571.9,405.6 572.1,403.7 572.3,415.4 572.5,413.4 572.7,416.3 572.9,407.7 573.1,419.1 573.3,420.9 573.5,411.3 573.7,401.5 573.9,421.5 574.1,421.3 574.3,429.3 574.5,435.5 574.7,388.5 574.9,450.0 575.1,434.2 575.3,432.2 575.5,435.3 575.7,424.7 575.9,427.6 576.1,429.5 576.3,441.0 576.5,444.0 576.7,431.3 576.9,416.8 577.1,386.5 577.3,424.9 577.5,424.7 577.7,437.6 577.9,393.0 578.1,433.7 578.3,442.5 578.5,437.7 578.7,340.6 578.9,425.3 579.1,425.9 579.3,386.4 579.5,420.8 579.7,431.9 579.9,477.5 580.1,360.7 580.3,285.6 580.5,398.8 580.7,430.2 580.9,428.7 581.1,436.9 581.3,429.1 581.5,426.2 581.7,404.7 581.9,399.9 582.1,420.0 582.3,425.5 582.5,397.5 582.7,415.1 582.9,404.4 583.1,426.5 583.3,390.2 583.5,418.2 583.7,440.0 583.9,394.0 584.1,417.6 584.3,422.0 584.5,412.3 584.7,410.3 584.9,338.6 585.1,428.6 585.3,424.7 585.5,412.7 585.7,360.5 585.9,409.9 586.1,411.0 586.3,405.5 586.5,418.1 586.7,388.1 586.9,361.6 587.1,404.0 587.3,407.5 587.5,435.0 587.7,432.4 587.9,424.1 588.1,422.4 588.3,420.3 588.5,423.5 588.7,434.6 588.9,441.0 589.1,411.8 589.3,402.7 589.5,425.1 589.7,432.9 589.9,416.4 590.1,431.9 590.3,446.6 590.5,418.4 590.7,451.5 590.9,444.6 591.1,416.8 591.3,470.0 591.5,317.6 591.7,388.1 591.9,422.5 592.1,447.9 592.3,451.7 592.5,454.1 592.7,417.5 592.9,442.4 593.0,431.4 593.2,424.7 593.4,407.7 593.6,339.7 593.8,457.5 594.0,418.4 594.2,411.9 594.4,419.0 594.6,419.1 594.8,415.5 595.0,407.7 595.2,381.3 595.4,430.1 595.6,412.1 595.8,360.4 596.0,457.5 596.2,426.5 596.4,342.2 596.6,433.8 596.8,447.2 597.0,457.6 597.2,436.3 597.4,478.8 597.6,400.3 597.8,433.7 598.0,354.1 598.2,440.9 598.4,457.8 598.6,439.6 598.8,436.5 599.0,413.9 599.2,465.3 599.4,450.6 599.6,398.9 599.8,421.0 600.0,459.9 600.2,295.4 600.4,422.8 600.6,391.8 600.8,422.8 601.0,453.3 601.2,475.0 601.4,436.8 601.6,330.7 601.8,348.5 602.0,430.0 602.2,460.7 602.4,454.3 602.6,439.4 602.8,412.3 603.0,432.6 603.2,432.2 603.4,432.9 603.6,436.9 603.8,404.8 604.0,449.9 604.2,432.9 604.4,401.2 604.6,451.3 604.8,452.2 605.0,460.0 605.2,421.0 605.4,397.6 605.6,423.5 605.8,389.4 606.0,431.9 606.2,449.1 606.4,409.3 606.6,427.3 606.8,444.3 607.0,452.9 607.2,459.4 607.4,453.1 607.6,420.4 607.8,446.9 608.0,453.4 608.2,447.8 608.4,425.7 608.6,419.2 608.8,470.0 609.0,447.5 609.2,421.8 609.4,407.1 609.6,337.8 609.8,419.3 610.0,395.5 610.2,423.7 610.4,444.4 610.6,413.6 610.8,422.3 611.0,417.2 611.2,475.0 611.4,418.0 611.6,430.9 611.8,399.9 612.0,429.0 612.2,452.2 612.4,293.8 612.6,429.6 612.8,449.3 613.0,418.8 613.2,384.3 613.4,432.8 613.6,417.7 613.8,413.2 614.0,413.3 614.2,411.6 614.4,323.3 614.6,420.7 614.8,412.2 615.0,437.5 615.2,402.8 615.4,368.1 615.6,382.9 615.8,418.3 616.0,398.6 616.2,258.8 616.4,339.0 616.6,343.7 616.8,396.2 617.0,384.0 617.2,397.1 617.4,421.0 617.5,414.1 617.7,419.2 617.9,275.0 618.1,414.3 618.3,417.6 618.5,411.9 618.7,451.2 618.9,426.9 619.1,403.8 619.3,395.9 619.5,401.8 619.7,397.7 619.9,404.3 620.1,429.0 620.3,432.7 620.5,424.6 620.7,416.1 620.9,423.3 621.1,422.0 621.3,440.0 621.5,358.9 621.7,399.6 621.9,369.7 622.1,357.0 622.3,359.7 622.5,342.9 622.7,390.5 622.9,400.4 623.1,414.0 623.3,391.3 623.5,364.6 623.7,442.5 623.9,388.9 624.1,391.9 624.3,390.5 624.5,386.8 624.7,380.0 624.9,399.7 625.1,375.0 625.3,315.0 625.5,272.5 625.7,328.8 625.9,364.8 626.1,357.5 626.3,397.5 626.5,328.2 626.7,340.6 626.9,300.6 627.1,337.0 627.3,372.0 627.5,392.7 627.7,364.5 627.9,253.7 628.1,378.8 628.3,393.1 628.5,396.8 628.7,359.5 628.9,403.1 629.1,364.5 629.3,348.9 629.5,389.4 629.7,402.5 629.9,389.2 630.1,291.2 630.3,388.0 630.5,387.2 630.7,352.4 630.9,371.5 631.1,312.6 631.3,361.9 631.5,368.4 631.7,369.6 631.9,348.0 632.1,312.3 632.3,330.0 632.5,255.0 632.7,351.8 632.9,338.2 633.1,346.9 633.3,273.1 633.5,349.5 633.7,357.2 633.9,359.1 634.1,347.0 634.3,341.4 634.5,346.7 634.7,324.8 634.9,336.6 635.1,152.5 635.3,321.8 635.5,357.4 635.7,346.1 635.9,353.9 636.1,250.7 636.3,348.5 636.5,343.8 636.7,368.8 636.9,351.6 637.1,350.0 637.3,312.8 637.5,385.0 637.7,362.5 637.9,333.4 638.1,266.2 638.3,345.3 638.5,372.2 638.7,243.8 638.9,364.1 639.1,363.4 639.3,329.9 639.5,325.3 639.7,314.4 639.9,357.2 640.1,354.7 640.3,345.7 640.5,323.5 640.7,320.7 640.9,347.5 641.1,318.9 641.3,245.0 641.5,345.9 641.7,336.9 641.9,295.2 642.1,318.2 642.2,340.6 642.4,340.6 642.6,308.1 642.8,322.4 643.0,331.0 643.2,232.5 643.4,247.3 643.6,343.9 643.8,308.5 644.0,349.3 644.2,341.2 644.4,345.1 644.6,345.6 644.8,274.6 645.0,355.0 645.2,312.9 645.4,208.0 645.6,326.5 645.8,338.0 646.0,346.6 646.2,343.9 646.4,342.6 646.6,341.1 646.8,343.0 647.0,371.0 647.2,370.5 647.4,292.5 647.6,363.5 647.8,373.9 648.0,281.8 648.2,354.2 648.4,364.2 648.6,354.7 648.8,405.0 649.0,381.6 649.2,388.7 649.4,366.2 649.6,382.6 649.8,388.9 650.0,297.5 650.2,368.5 650.4,372.6 650.6,383.5 650.8,379.6 651.0,399.9 651.2,383.5 651.4,397.3 651.6,394.9 651.8,398.1 652.0,396.5 652.2,379.5 652.4,330.0 652.6,386.1 652.8,381.7 653.0,405.0 653.2,411.2 653.4,417.7 653.6,409.9 653.8,432.5 654.0,411.7 654.2,409.5 654.4,416.3 654.6,400.2 654.8,393.4 655.0,383.2 655.2,342.9 655.4,369.1 655.6,403.4 655.8,395.9 656.0,405.1 656.2,420.0 656.4,407.3 656.6,377.5 656.8,416.7 657.0,399.8 657.2,403.5 657.4,422.7 657.6,398.9 657.8,377.6 658.0,335.6 658.2,410.4 658.4,396.5 658.6,407.9 658.8,368.2 659.0,410.1 659.2,390.1 659.4,431.0 659.6,457.5 659.8,440.0 660.0,428.0 660.2,95.8 660.4,421.2 660.6,423.8 660.8,428.7 661.0,414.4 661.2,390.8 661.4,390.0 661.6,338.9 661.8,392.8 662.0,391.6 662.2,406.0 662.4,365.0 662.6,322.5 662.8,343.6 663.0,411.1 663.2,412.9 663.4,409.0 663.6,411.9 663.8,411.5 664.0,400.2 664.2,418.5 664.4,421.4 664.6,403.3 664.8,414.6 665.0,348.3 665.2,407.9 665.4,433.5 665.6,418.0 665.8,422.4 666.0,416.9 666.2,462.5 666.4,429.5 666.6,422.6 666.7,445.2 666.9,312.5 667.1,446.8 667.3,399.3 667.5,428.6 667.7,389.1 667.9,421.5 668.1,412.4 668.3,428.7 668.5,422.4 668.7,412.5 668.9,405.1 669.1,431.3 669.3,457.8 669.5,468.8 669.7,412.3 669.9,386.5 670.1,424.6 670.3,381.8 670.5,454.8 670.7,437.5 670.9,430.7 671.1,334.0 671.3,411.2 671.5,316.8 671.7,310.5 671.9,420.6 672.1,418.0 672.3,420.7 672.5,450.0 672.7,398.0 672.9,413.4 673.1,330.4 673.3,365.7 673.5,402.5 673.7,397.4 673.9,400.1 674.1,398.5 674.3,397.4 674.5,265.0 674.7,308.2 674.9,415.0 675.1,356.5 675.3,380.2 675.5,351.9 675.7,382.5 675.9,335.9 676.1,386.8 676.3,369.1 676.5,359.7 676.7,335.7 676.9,222.5 677.1,330.1 677.3,379.3 677.5,387.3 677.7,392.0 677.9,384.1 678.1,260.7 678.3,400.0 678.5,269.3 678.7,340.8 678.9,347.6 679.1,353.4 679.3,350.2 679.5,260.0 679.7,299.1 679.9,315.4 680.1,313.3 680.3,291.6 680.5,317.2 680.7,251.9 680.9,318.9 681.1,292.6 681.3,355.0 681.5,320.6 681.7,302.0 681.9,295.4 682.1,316.6 682.3,334.2 682.5,206.2 682.7,312.3 682.9,281.2 683.1,301.9 683.3,317.1 683.5,331.0 683.7,320.4 683.9,326.5 684.1,313.5 684.3,317.9 684.5,225.0 684.7,311.7 684.9,318.5 685.1,225.0 685.3,313.8 685.5,324.9 685.7,338.1 685.9,340.7 686.1,341.5 686.3,337.9 686.5,354.6 686.7,352.5 686.9,342.6 687.1,338.8 687.3,334.5 687.5,223.8 687.7,349.1 687.9,293.5 688.1,330.8 688.3,369.7 688.5,360.9 688.7,365.7 688.9,344.7 689.1,282.0 689.3,364.0 689.5,342.7 689.7,368.9 689.9,380.2 690.1,242.5 690.3,221.6 690.5,361.0 690.7,356.9 690.9,363.7 691.1,355.7 691.2,344.9 691.4,339.2 691.6,315.7 691.8,326.3 692.0,330.0 692.2,331.8 692.4,210.0 692.6,324.8 692.8,347.0 693.0,343.3 693.2,340.4 693.4,351.7 693.6,363.1 693.8,366.5 694.0,225.6 694.2,368.3 694.4,373.4 694.6,366.5 694.8,385.3 695.0,290.0 695.2,359.3 695.4,272.4 695.6,369.2 695.8,413.8 696.0,391.0 696.2,280.0 696.4,311.4 696.6,353.0 696.8,375.0 697.0,332.3 697.2,383.8 697.4,307.2 697.6,377.3 697.8,357.7 698.0,350.6 698.2,364.3 698.4,375.2 698.6,383.6 698.8,315.0 699.0,289.5 699.2,375.8 699.4,381.4 699.6,358.3 699.8,335.1 700.0,390.0 700.2,372.7 700.4,360.8 700.6,363.5 700.8,351.2 701.0,377.6 701.2,305.0 701.4,390.3 701.6,409.1 701.8,413.2 702.0,410.2 702.2,411.8 702.4,402.3 702.6,425.4 702.8,417.9 703.0,329.5 703.2,457.5 703.4,422.8 703.6,419.5 703.8,383.1 704.0,419.6 704.2,287.5 704.4,400.3 704.6,389.2 704.8,384.1 705.0,346.4 705.2,379.1 705.4,410.2 705.6,395.2 705.8,398.1 706.0,348.9 706.2,364.4 706.4,372.4 706.6,386.4 706.8,397.1 707.0,412.5 707.2,369.6 707.4,336.4 707.6,280.0 707.8,373.0 708.0,400.8 708.2,390.1 708.4,386.7 708.6,399.1 708.8,393.8 709.0,376.4 709.2,379.9 709.4,379.7 709.6,386.5 709.8,387.9 710.0,297.5 710.2,402.1 710.4,389.1 710.6,343.6 710.8,383.5 711.0,380.3 711.2,420.0 711.4,392.2 711.6,400.8 711.8,407.9 712.0,388.7 712.2,405.3 712.4,387.0 712.6,392.0 712.8,420.9 713.0,356.5 713.2,406.5 713.4,407.1 713.6,422.1 713.8,446.2 714.0,420.3 714.2,404.8 714.4,436.1 714.6,415.4 714.8,414.8 715.0,367.7 715.2,439.5 715.4,434.5 715.6,396.8 715.8,423.3 715.9,401.0 716.1,426.4 716.3,315.0 716.5,396.6 716.7,460.0 716.9,431.7 717.1,418.3 717.3,363.0 717.5,406.4 717.7,342.1 717.9,412.4 718.1,359.7 718.3,377.9 718.5,369.3 718.7,267.5 718.9,381.0 719.1,376.5 719.3,383.5 719.5,379.5 719.7,376.8 719.9,390.0 720.1,370.3 720.3,355.7 720.5,210.0 720.7,278.0 720.9,349.5 721.1,352.8 721.3,318.9 721.5,358.7 721.7,341.1 721.9,350.1 722.1,346.0 722.3,331.9 722.5,208.8 722.7,295.0 722.9,302.6 723.1,302.2 723.3,303.0 723.5,320.0 723.7,355.0 723.9,315.5 724.1,300.5 724.3,286.4 724.5,343.5 724.7,351.5 724.9,242.5 725.1,353.0 725.3,319.1 725.5,256.3 725.7,317.3 725.9,341.9 726.1,355.4 726.3,350.3 726.5,323.2 726.7,251.4 726.9,415.0 727.1,357.4 727.3,299.2 727.5,167.0 727.7,299.0 727.9,330.7 728.1,345.5 728.3,308.5 728.5,342.6 728.7,342.8 728.9,326.4 729.1,326.8 729.3,326.6 729.5,203.8 729.7,292.3 729.9,293.3 730.1,350.0 730.3,302.9 730.5,296.2 730.7,317.9 730.9,315.4 731.1,308.9 731.3,262.5 731.5,328.0 731.7,303.2 731.9,319.2 732.1,294.2 732.3,343.1 732.5,348.1 732.7,335.5 732.9,300.5 733.1,318.0 733.3,341.4 733.5,200.0 733.7,341.3 733.9,350.9 734.1,352.8 734.3,349.4 734.5,353.4 734.7,349.6 734.9,352.0 735.1,372.5 735.3,331.0 735.5,340.8 735.7,344.5 735.9,361.0 736.1,369.0 736.3,290.0 736.5,262.8 736.7,349.0 736.9,371.9 737.1,279.0 737.3,358.9 737.5,395.0 737.7,366.7 737.9,362.0 738.1,305.7 738.3,358.8 738.5,349.5 738.7,302.5 738.9,390.2 739.1,389.1 739.3,397.9 739.5,389.3 739.7,389.2 739.9,344.3 740.1,389.4 740.3,367.3 740.4,420.0 740.6,363.8 740.8,290.4 741.0,391.1 741.2,363.5 741.4,342.3 741.6,386.9 741.8,398.4 742.0,390.0 742.2,394.5 742.4,330.0 742.6,381.4 742.8,388.0 743.0,388.6 743.2,358.7 743.4,379.2 743.6,358.1 743.8,379.1 744.0,377.0 744.2,388.5 744.4,283.8 744.6,365.1 744.8,334.1 745.0,405.0 745.2,382.4 745.4,329.6 745.6,386.4 745.8,400.6 746.0,382.7 746.2,396.7 746.4,401.2 746.6,389.7 746.8,401.3 747.0,270.0 747.2,345.3 747.4,345.7 747.6,400.0 747.8,387.2 748.0,401.4 748.2,402.2 748.4,400.8 748.6,399.9 748.8,389.5 749.0,398.1 749.2,350.6 749.4,409.1 749.6,388.7 749.8,413.5 750.0,305.0 750.2,369.8 750.4,346.8 750.6,370.5 750.8,385.8 751.0,407.1 751.2,405.9 751.4,396.6 751.6,403.8 751.8,413.2 752.0,368.5 752.2,371.2 752.4,297.5 752.6,402.1 752.8,383.3 753.0,399.8 753.2,387.4 753.4,401.6 753.6,403.4 753.8,408.0 754.0,393.1 754.2,408.2 754.4,363.8 754.6,380.3 754.8,399.1 755.0,399.7 755.2,399.4 755.4,410.3 755.6,246.2 755.8,407.3 756.0,409.6 756.2,408.8 756.4,357.5 756.6,402.3 756.8,421.1 757.0,395.2 757.2,375.3 757.4,416.3 757.6,408.1 757.8,409.6 758.0,391.2 758.2,371.3 758.4,335.1 758.6,394.8 758.8,398.0 759.0,445.0 759.2,389.0 759.4,365.3 759.6,400.7 759.8,317.0 760.0,395.8 760.2,357.1 760.4,317.3 760.6,334.4 760.8,305.9 761.0,333.1 761.2,370.2 761.4,350.1 761.6,349.1 761.8,356.2 762.0,339.2 762.2,360.5 762.4,369.5 762.6,390.0 762.8,353.9 763.0,315.8 763.2,190.8 763.4,353.6 763.6,308.9 763.8,331.4 764.0,333.5 764.2,365.0 764.4,354.6 764.6,348.8 764.8,349.9 764.9,359.0 765.1,364.9 765.3,344.7 765.5,331.7 765.7,316.4 765.9,353.5 766.1,358.9 766.3,237.5 766.5,338.0 766.7,339.2 766.9,322.8 767.1,348.0 767.3,345.0 767.5,365.0 767.7,329.2 767.9,322.8 768.1,347.4 768.3,320.4 768.5,360.3 768.7,285.0 768.9,359.3 769.1,350.3 769.3,351.4 769.5,372.3 769.7,372.8 769.9,368.4 770.1,352.4 770.3,241.7 770.5,212.5 770.7,375.9 770.9,366.2 771.1,379.9 771.3,374.2 771.5,372.5 771.7,343.8 771.9,407.5 772.1,347.9 772.3,306.7 772.5,216.2 772.7,354.0 772.9,345.9 773.1,354.5 773.3,369.4 773.5,375.6 773.7,365.5 773.9,368.1 774.1,339.8 774.3,231.2 774.5,319.4 774.7,323.4 774.9,334.7 775.1,346.6 775.3,359.5 775.5,335.5 775.7,368.2 775.9,327.1 776.1,283.8 776.3,406.2 776.5,324.1 776.7,325.4 776.9,249.4 777.1,289.7 777.3,345.3 777.5,202.0 777.7,335.9 777.9,342.3 778.1,342.6 778.3,302.3 778.5,365.4 778.7,360.3 778.9,292.2 779.1,265.3 779.3,315.6 779.5,265.0 779.7,374.5 779.9,366.9 780.1,387.5 780.3,344.0 780.5,339.7 780.7,373.2 780.9,364.1 781.1,375.6 781.3,362.4 781.5,354.9 781.7,374.1 781.9,385.1 782.1,354.4 782.3,347.1 782.5,330.0 782.7,388.8 782.9,361.4 783.1,413.8 783.3,337.5 783.5,354.2 783.7,383.7 783.9,360.8 784.1,403.0 784.3,400.7 784.5,390.3 784.7,379.8 784.9,377.2 785.1,383.1 785.3,394.9 785.5,382.3 785.7,246.2 785.9,345.8 786.1,335.8 786.3,351.7 786.5,390.0 786.7,376.3 786.9,341.5 787.1,383.1 787.3,357.2 787.5,282.5 787.7,403.0 787.9,391.1 788.1,400.7 788.3,397.7 788.5,371.5 788.7,403.1 788.9,407.2 789.1,403.8 789.3,319.0 789.5,389.4 789.6,392.4 789.8,406.9 790.0,406.2 790.2,364.0 790.4,395.4 790.6,392.6 790.8,399.7 791.0,396.7 791.2,428.8 791.4,399.5 791.6,347.5 791.8,418.2 792.0,395.4 792.2,417.2 792.4,402.3 792.6,402.8 792.8,408.7 793.0,421.6 793.2,416.9 793.4,384.8 793.6,407.4 793.8,437.5 794.0,398.2 794.2,408.4 794.4,408.4 794.6,415.3 794.8,347.2 795.0,393.5 795.2,395.4 795.4,410.5 795.6,414.7 795.8,398.4 796.0,406.4 796.2,422.5 796.4,410.8 796.6,370.4 796.8,407.5 797.0,406.9 797.2,402.8 797.4,415.7 797.6,413.2 797.8,418.6 798.0,342.1 798.2,295.0 798.4,398.8 798.6,409.4 798.8,421.9 799.0,415.5 799.2,433.8 799.4,418.9 799.6,420.4 799.8,413.7 800.0,409.2 800.2,423.4 800.4,435.3 800.6,427.5 800.8,428.1 801.0,425.0 801.2,418.6 801.4,390.1 801.6,424.0 801.8,414.4 802.0,468.8 802.2,437.3 802.4,406.0 802.6,438.8 802.8,399.3 803.0,313.8 803.2,426.1 803.4,411.3 803.6,400.6 803.8,404.9 804.0,413.7 804.2,440.0 804.4,404.8 804.6,414.6 804.8,404.4 805.0,403.4 805.2,407.9 805.4,417.7 805.6,426.9 805.8,433.0 806.0,391.9 806.2,350.7 806.4,395.4 806.6,411.6 806.8,423.4 807.0,462.5 807.2,367.0 807.4,414.5 807.6,337.5 807.8,384.2 808.0,442.4 808.2,332.2 808.4,420.4 808.6,411.0 808.8,412.7 809.0,397.5 809.2,392.9 809.4,361.8 809.6,408.9 809.8,390.4 810.0,425.0 810.2,398.5 810.4,392.2 810.6,382.7 810.8,393.6 811.0,391.1 811.2,372.5 811.4,318.1 811.6,292.6 811.8,303.8 812.0,389.2 812.2,416.0 812.4,306.7 812.6,421.6 812.8,303.2 813.0,359.7 813.2,446.2 813.4,427.3 813.6,414.1 813.8,398.3 814.0,300.6 814.1,280.1 814.3,388.5 814.5,360.6 814.7,346.2 814.9,184.5 815.1,378.9 815.3,327.6 815.5,290.5 815.7,394.3 815.9,385.8 816.1,383.3 816.3,415.0 816.5,362.9 816.7,280.0 816.9,366.2 817.1,321.8 817.3,366.7 817.5,369.8 817.7,379.1 817.9,356.8 818.1,356.3 818.3,366.3 818.5,221.2 818.7,390.0 818.9,373.8 819.1,373.0 819.3,363.4 819.5,385.3 819.7,403.5 819.9,375.6 820.1,390.1 820.3,385.8 820.5,395.2 820.7,353.7 820.9,424.8 821.1,274.0 821.3,295.0 821.5,364.5 821.7,469.5 821.9,403.1 822.1,379.2 822.3,358.3 822.5,418.9 822.7,407.2 822.9,425.9 823.1,330.0 823.3,396.5 823.5,396.1 823.7,422.5 823.9,377.5 824.1,354.7 824.3,363.7 824.5,409.2 824.7,393.8 824.9,305.0 825.1,377.0 825.3,366.0 825.5,265.0 825.7,440.0 825.9,421.1 826.1,400.9 826.3,358.4" fill="none" stroke="#4a7ebb" stroke-width="1.25" stroke-linejoin="round"/>
<!-- ellipse -->
<ellipse cx="361.7" cy="446.6" rx="48.8" ry="130" fill="#d99694" fill-opacity="0.32" stroke="#d99694" stroke-width="3.2"/>
<!-- text boxes (white) -->
<rect x="213" y="86" width="218" height="88" fill="#fff"/>
<rect x="118" y="230" width="179" height="85" fill="#fff"/>
<!-- callouts -->
<g stroke="#385d8a" stroke-width="3" fill="none" stroke-linejoin="round">
<path d="M431.6,86.8V173"/>
<path d="M431.6,104.3L490,105.4L630,247"/>
<path d="M297.7,231.6V314"/>
<path d="M297.7,243.5L325.9,243.5L355.9,438.6"/>
</g>
<!-- title -->
<g font-size="17.5" font-weight="bold">
<text x="250.45" y="30.8" textLength="49.85" lengthAdjust="spacingAndGlyphs">NYSE</text>
<text x="304.95" y="30.8" textLength="74.60" lengthAdjust="spacingAndGlyphs">Trading</text>
<text x="384.95" y="30.8" textLength="75.35" lengthAdjust="spacingAndGlyphs">Volume</text>
<text x="466.20" y="30.8" textLength="9.10" lengthAdjust="spacingAndGlyphs">-</text>
<text x="480.45" y="30.8" textLength="49.10" lengthAdjust="spacingAndGlyphs">1960</text>
<text x="534.95" y="30.8" textLength="19.60" lengthAdjust="spacingAndGlyphs">to</text>
<text x="560.45" y="30.8" textLength="47.35" lengthAdjust="spacingAndGlyphs">1975</text>
</g>
<!-- y labels -->
<g font-size="15.7">
<text x="2.7" y="62" textLength="69.3" lengthAdjust="spacingAndGlyphs">3.50E+07</text>
<text x="2.7" y="136" textLength="69.3" lengthAdjust="spacingAndGlyphs">3.00E+07</text>
<text x="2.7" y="211" textLength="69.3" lengthAdjust="spacingAndGlyphs">2.50E+07</text>
<text x="2.7" y="286" textLength="69.3" lengthAdjust="spacingAndGlyphs">2.00E+07</text>
<text x="2.7" y="360" textLength="69.3" lengthAdjust="spacingAndGlyphs">1.50E+07</text>
<text x="2.7" y="435" textLength="69.3" lengthAdjust="spacingAndGlyphs">1.00E+07</text>
<text x="2.7" y="509" textLength="69.3" lengthAdjust="spacingAndGlyphs">5.00E+06</text>
<text x="2.7" y="584" textLength="69.3" lengthAdjust="spacingAndGlyphs">0.00E+00</text>
</g>
<!-- x labels -->
<g font-size="15.7">
<text x="65.2" y="608.2" textLength="48.5" lengthAdjust="spacingAndGlyphs">Jan-60</text>
<text x="163.2" y="608.2" textLength="48.5" lengthAdjust="spacingAndGlyphs">Jan-62</text>
<text x="262.2" y="608.2" textLength="48.5" lengthAdjust="spacingAndGlyphs">Jan-64</text>
<text x="360.2" y="608.2" textLength="48.5" lengthAdjust="spacingAndGlyphs">Jan-66</text>
<text x="458.2" y="608.2" textLength="48.5" lengthAdjust="spacingAndGlyphs">Jan-68</text>
<text x="556.2" y="608.2" textLength="48.5" lengthAdjust="spacingAndGlyphs">Jan-70</text>
<text x="654.2" y="608.2" textLength="48.5" lengthAdjust="spacingAndGlyphs">Jan-72</text>
<text x="751" y="608.2" textLength="51.4" lengthAdjust="spacingAndGlyphs">Dec-73</text>
</g>
<!-- annotations -->
<g font-size="19.7">
<text x="247.5" y="108.5" textLength="173.7" lengthAdjust="spacingAndGlyphs">Producing a radical</text>
<text x="247.5" y="132.3" textLength="173.7" lengthAdjust="spacingAndGlyphs">change in the scale</text>
<text x="248.7" y="155.7" textLength="172.5" lengthAdjust="spacingAndGlyphs">and kind of market</text>
<text x="126.70" y="253.5" textLength="44.60" lengthAdjust="spacingAndGlyphs">1964</text>
<text x="177.20" y="253.5" textLength="33.60" lengthAdjust="spacingAndGlyphs">SEC</text>
<text x="221.70" y="253.5" textLength="65.35" lengthAdjust="spacingAndGlyphs">market</text>
<text x="149.30" y="277.4" textLength="41.40" lengthAdjust="spacingAndGlyphs">rules</text>
<text x="200.55" y="277.4" textLength="53.90" lengthAdjust="spacingAndGlyphs">issued</text>
<text x="261.80" y="277.4" textLength="25.15" lengthAdjust="spacingAndGlyphs">w/</text>
<text x="179.80" y="301.6" textLength="44.65" lengthAdjust="spacingAndGlyphs">quick</text>
<text x="233.05" y="301.6" textLength="53.90" lengthAdjust="spacingAndGlyphs">effect</text>
</g>
<!-- legend -->
<path d="M291,622.5H317" stroke="#4a7ebb" stroke-width="1" fill="none" shape-rendering="crispEdges"/>
<text x="320.5" y="627" font-size="11.6" textLength="40" lengthAdjust="spacingAndGlyphs">Volume</text>
<text x="571.30" y="623.6" textLength="10.65" lengthAdjust="spacingAndGlyphs" font-size="11.6">JL</text>
<text x="585.55" y="623.6" textLength="49.65" lengthAdjust="spacingAndGlyphs" font-size="11.6">Henshaw</text>
<text x="639.6" y="623.6" font-size="11.6">/</text>
<text x="646.30" y="623.6" textLength="77.40" lengthAdjust="spacingAndGlyphs" font-size="11.6">synapse9.com</text>
<text x="726.8" y="623.6" font-size="11.6">-</text>
<text x="733.80" y="623.6" textLength="35.65" lengthAdjust="spacingAndGlyphs" font-size="11.6">prelim</text>
<!-- border -->
<g fill="#868686" shape-rendering="crispEdges">
<rect x="0" y="0" width="860" height="1"/>
<rect x="0" y="0" width="1" height="640"/>
<rect x="858" y="0" width="2" height="640"/>
<rect x="0" y="638" width="860" height="2"/>
</g>
</svg>
</body>
</html>
